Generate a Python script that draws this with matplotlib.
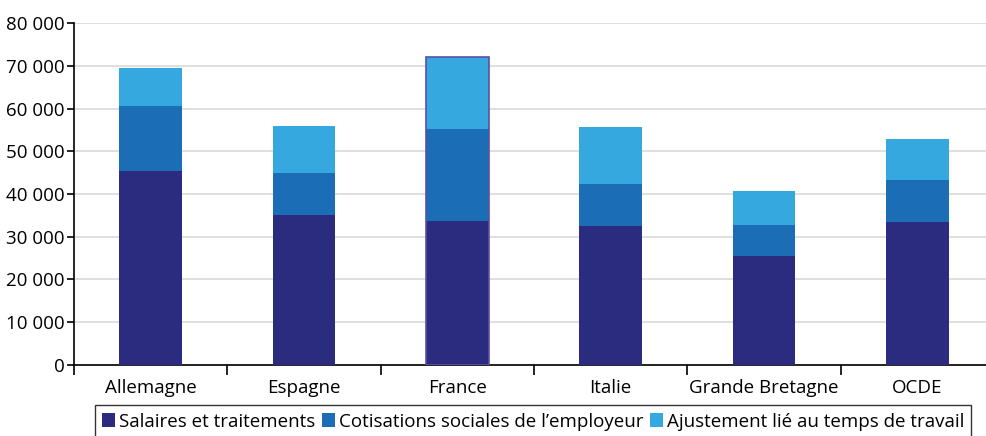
import matplotlib.pyplot as plt
import numpy as np
from matplotlib.ticker import FuncFormatter, FixedLocator

plt.rcParams["font.family"] = ["Open Sans", "DejaVu Sans"]

# Data
pays = ["Allemagne", "Espagne", "France", "Italie", "Grande Bretagne", "OCDE"]
salaires = [45400, 35100, 33700, 32500, 25500, 33500]
cotisations = [15200, 9800, 21500, 9800, 7200, 9800]
ajustement = [8900, 11000, 16800, 13400, 8000, 9600]

c_sal = "#2B2C80"
c_cot = "#1B6DB5"
c_aju = "#35A8E0"

fig = plt.figure(figsize=(9.87, 4.36), dpi=100)
ax = fig.add_axes([0.075, 0.163, 0.932, 0.784])

x = np.arange(len(pays)) + 0.5
w = 0.41
bottom2 = np.array(salaires)
bottom3 = bottom2 + np.array(cotisations)

ax.bar(x, salaires, w, color=c_sal, label="Salaires et traitements", zorder=3)
ax.bar(x, cotisations, w, bottom=bottom2, color=c_cot,
       label="Cotisations sociales de l\u2019employeur", zorder=3)
ax.bar(x, ajustement, w, bottom=bottom3, color=c_aju,
       label="Ajustement lié au temps de travail", zorder=3)

# France bar outlined
i = pays.index("France")
ax.bar(x[i], bottom3[i] + ajustement[i], w, color="none",
       edgecolor="#5B4FA8", linewidth=1.2, zorder=4)

ax.set_xlim(0, len(pays))
ax.set_ylim(0, 80000)
ax.set_yticks(np.arange(0, 80001, 10000))
ax.yaxis.set_major_formatter(FuncFormatter(lambda v, p: f"{int(v):,}".replace(",", " ")))
ax.xaxis.set_major_locator(FixedLocator(np.arange(0, len(pays))))
ax.xaxis.set_minor_locator(FixedLocator(x))
ax.set_xticklabels([], minor=False)
ax.set_xticklabels(pays, minor=True)
ax.tick_params(axis="x", which="major", length=7, width=1.2, direction="out")
ax.tick_params(axis="x", which="minor", length=0, pad=10, labelsize=13.5)
ax.tick_params(axis="y", length=5, width=1.2, labelsize=13.5, pad=2)

ax.grid(axis="y", color="#D9D9D9", linewidth=1.2, zorder=0)
for s in ["top", "right"]:
    ax.spines[s].set_visible(False)
ax.spines["left"].set_linewidth(1.2)
ax.spines["bottom"].set_linewidth(1.2)

leg = fig.legend(loc="upper center", bbox_to_anchor=(0.54, 0.071), ncol=3,
                 frameon=True, fancybox=False, fontsize=13.5, handlelength=0.7,
                 handleheight=0.7, handletextpad=0.2, columnspacing=0.35,
                 borderpad=0.4, borderaxespad=0.0)
leg.get_frame().set_edgecolor("black")
leg.get_frame().set_linewidth(1.0)

plt.savefig("out.png", dpi=100)
